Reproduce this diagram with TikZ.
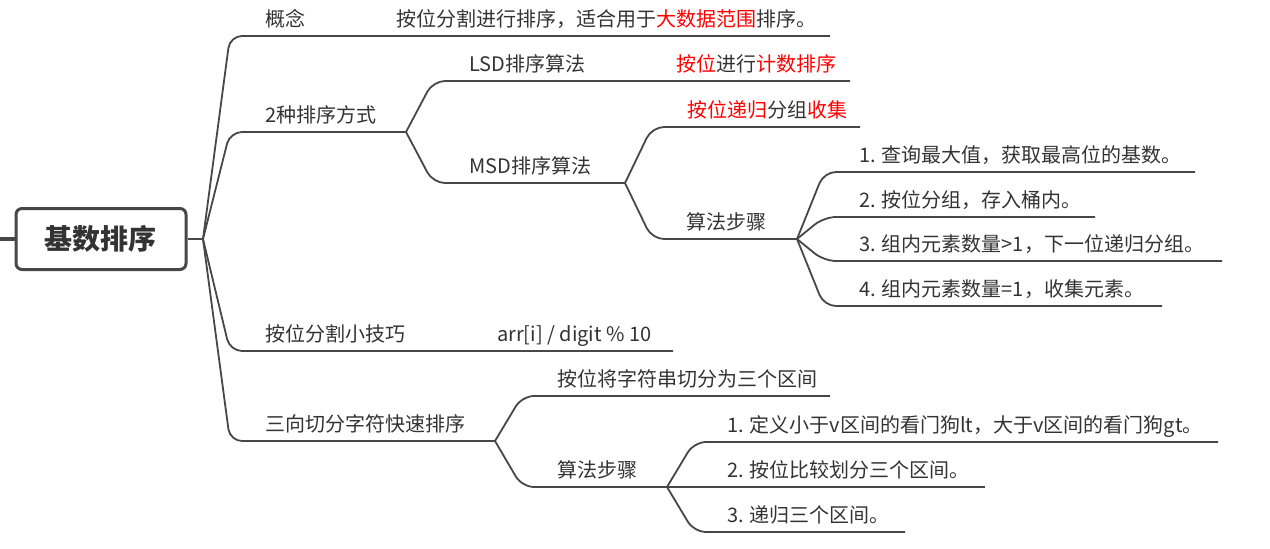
\documentclass[tikz,border=0pt]{standalone}
\usepackage{fontspec}
\setmainfont{Noto Sans CJK SC}
\definecolor{ln}{HTML}{474747}
\definecolor{tx}{HTML}{333333}
\definecolor{rd}{HTML}{FF0000}
\begin{document}
\begin{tikzpicture}[x=1pt,y=-1pt,
 lbl/.style={anchor=base west, inner sep=0pt, text=tx, font=\fontsize{20}{24}\selectfont},
 branch/.style={draw=ln, line width=1.8pt, rounded corners=12pt},
 rootbox/.style={draw=ln, line width=3pt, rounded corners=6pt, fill=white, minimum width=170pt, minimum height=61pt, inner sep=0pt, text=tx, font=\fontsize{28}{32}\selectfont\bfseries}]
\useasboundingbox (0,0) rectangle (1270,549);
% root
\node[rootbox] (root) at (101,239) {基数排序};
\coordinate (stub) at (0,239);
\draw[ln, line width=4pt] (stub) -- (root.west);
\coordinate (j0) at (203,239);
\draw[branch] (root.east) -- (j0);
% level 1
\coordinate (c1) at (230,36);  \coordinate (e1) at (830,36);
\coordinate (c2) at (230,132); \coordinate (j2) at (406,132);
\coordinate (c3) at (230,351); \coordinate (e3) at (673,351);
\coordinate (c4) at (230,441); \coordinate (j4) at (495,441);
\draw[branch] (j0) -- (c1) -- (e1);
\draw[branch] (j0) -- (c2) -- (j2);
\draw[branch] (j0) -- (c3) -- (e3);
\draw[branch] (j0) -- (c4) -- (j4);
% 2 methods
\coordinate (c21) at (433,81);  \coordinate (e21) at (850,81);
\coordinate (c22) at (433,183); \coordinate (j3) at (625,183);
\draw[branch] (j2) -- (c21) -- (e21);
\draw[branch] (j2) -- (c22) -- (j3);
% MSD
\coordinate (c31) at (652,127); \coordinate (e31) at (860,127);
\coordinate (c32) at (652,239); \coordinate (j5) at (797,239);
\draw[branch] (j3) -- (c31) -- (e31);
\draw[branch] (j3) -- (c32) -- (j5);
% MSD steps
\coordinate (c51) at (824,172); \coordinate (e51) at (1195,172);
\coordinate (c52) at (824,217); \coordinate (e52) at (1095,217);
\coordinate (c53) at (824,261); \coordinate (e53) at (1222,261);
\coordinate (c54) at (824,306); \coordinate (e54) at (1162,306);
\draw[branch] (j5) -- (c51) -- (e51);
\draw[branch] (j5) -- (c52) -- (e52);
\draw[branch] (j5) -- (c53) -- (e53);
\draw[branch] (j5) -- (c54) -- (e54);
% three-way
\coordinate (c41) at (522,396); \coordinate (e41) at (830,396);
\coordinate (c42) at (522,487); \coordinate (j6) at (667,487);
\draw[branch] (j4) -- (c41) -- (e41);
\draw[branch] (j4) -- (c42) -- (j6);
\coordinate (c61) at (694,442); \coordinate (e61) at (1218,442);
\coordinate (e62) at (985,487);
\coordinate (c63) at (694,532); \coordinate (e63) at (905,532);
\draw[branch] (j6) -- (c61) -- (e61);
\draw[branch] (j6) -- (e62);
\draw[branch] (j6) -- (c63) -- (e63);
% labels
\node[lbl] (t1) at (265,26) {概念};
\node[lbl] (t1d) at (396,26) {按位分割进行排序，适合用于\textcolor{rd}{大数据范围}排序。};
\node[lbl] (t2) at (265,122) {2种排序方式};
\node[lbl] (t21) at (469,71) {LSD排序算法};
\node[lbl] (t21d) at (676,71) {\textcolor{rd}{按位}进行\textcolor{rd}{计数排序}};
\node[lbl] (t22) at (469,173) {MSD排序算法};
\node[lbl] (t31) at (687,117) {\textcolor{rd}{按位递归}分组\textcolor{rd}{收集}};
\node[lbl] (t32) at (686,229) {算法步骤};
\node[lbl] (t51) at (859,162) {1. 查询最大值，获取最高位的基数。};
\node[lbl] (t52) at (859,207) {2. 按位分组，存入桶内。};
\node[lbl] (t53) at (859,251) {3. 组内元素数量>1，下一位递归分组。};
\node[lbl] (t54) at (859,296) {4. 组内元素数量=1，收集元素。};
\node[lbl] (t3) at (265,341) {按位分割小技巧};
\node[lbl] (t3d) at (497,341) {arr[i] / digit \% 10};
\node[lbl] (t4) at (265,431) {三向切分字符快速排序};
\node[lbl] (t41) at (557,386) {按位将字符串切分为三个区间};
\node[lbl] (t42) at (557,477) {算法步骤};
\node[lbl] (t61) at (727,432) {1. 定义小于v区间的看门狗lt，大于v区间的看门狗gt。};
\node[lbl] (t62) at (727,477) {2. 按位比较划分三个区间。};
\node[lbl] (t63) at (727,522) {3. 递归三个区间。};
\end{tikzpicture}
\end{document}
